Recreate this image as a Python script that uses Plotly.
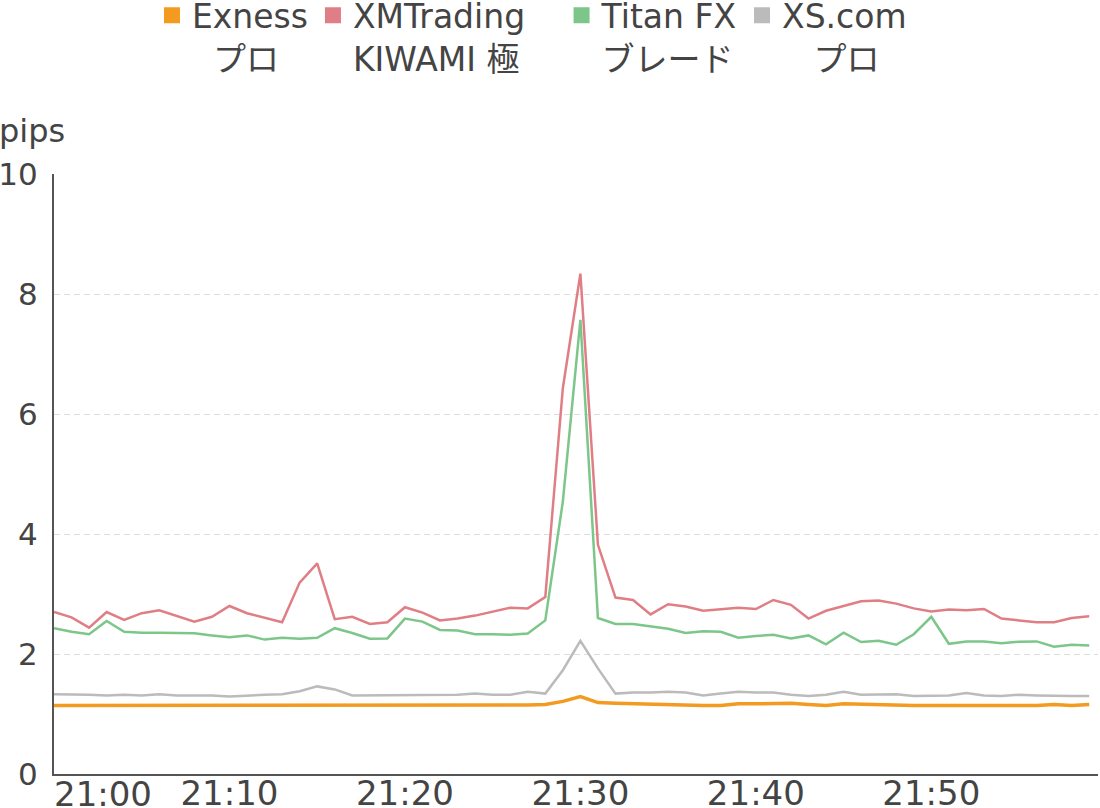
import plotly.graph_objects as go

times = [f"21:{m:02d}" for m in range(60)]

exness = [1.14, 1.14, 1.14, 1.14, 1.14, 1.14, 1.14, 1.14, 1.14, 1.14,
          1.14, 1.14, 1.14, 1.14, 1.14, 1.14, 1.15, 1.15, 1.14, 1.14,
          1.15, 1.15, 1.15, 1.15, 1.15, 1.15, 1.15, 1.15, 1.16, 1.21,
          1.29, 1.19, 1.18, 1.17, 1.16, 1.15, 1.14, 1.14, 1.14, 1.17,
          1.17, 1.18, 1.18, 1.16, 1.14, 1.17, 1.16, 1.16, 1.14, 1.14,
          1.14, 1.14, 1.14, 1.14, 1.14, 1.14, 1.14, 1.16, 1.14, 1.16]

xmtrading = [2.70, 2.61, 2.44, 2.70, 2.57, 2.68, 2.73, 2.63, 2.54, 2.62,
             2.80, 2.68, 2.61, 2.53, 3.19, 3.51, 2.58, 2.62, 2.50, 2.53,
             2.78, 2.69, 2.56, 2.59, 2.64, 2.71, 2.77, 2.76, 2.95, 6.43,
             8.34, 3.82, 2.94, 2.90, 2.66, 2.83, 2.79, 2.72, 2.74, 2.77,
             2.75, 2.90, 2.82, 2.59, 2.72, 2.80, 2.88, 2.89, 2.84, 2.76,
             2.71, 2.74, 2.73, 2.75, 2.59, 2.56, 2.53, 2.53, 2.60, 2.63]

titanfx = [2.43, 2.37, 2.33, 2.55, 2.37, 2.355, 2.355, 2.345, 2.345, 2.31,
           2.28, 2.31, 2.24, 2.27, 2.255, 2.27, 2.43, 2.35, 2.255, 2.26,
           2.59, 2.54, 2.40, 2.39, 2.33, 2.33, 2.32, 2.34, 2.56, 4.54,
           7.57, 2.60, 2.50, 2.50, 2.46, 2.42, 2.35, 2.38, 2.37, 2.27,
           2.30, 2.32, 2.26, 2.31, 2.16, 2.355, 2.20, 2.22, 2.155, 2.33,
           2.62, 2.17, 2.21, 2.21, 2.18, 2.205, 2.21, 2.12, 2.155, 2.14]

xscom = [1.33, 1.33, 1.32, 1.31, 1.32, 1.31, 1.33, 1.31, 1.31, 1.31,
         1.29, 1.31, 1.32, 1.33, 1.38, 1.46, 1.41, 1.31, 1.31, 1.31,
         1.32, 1.32, 1.32, 1.32, 1.34, 1.32, 1.32, 1.37, 1.34, 1.73,
         2.22, 1.76, 1.34, 1.36, 1.36, 1.37, 1.36, 1.31, 1.34, 1.37,
         1.36, 1.36, 1.32, 1.30, 1.32, 1.37, 1.32, 1.33, 1.33, 1.30,
         1.31, 1.31, 1.35, 1.31, 1.30, 1.32, 1.31, 1.30, 1.30, 1.30]

series_names = ["Exness<br>\u00a0\u00a0プロ",
                "XMTrading\u00a0\u00a0\u00a0<br>KIWAMI 極",
                "Titan FX<br>ブレード",
                "XS.com<br>\u00a0\u00a0\u00a0プロ"]
series_values = [exness, xmtrading, titanfx, xscom]
colors = ["#F39A21", "#E07E85", "#7DC68A", "#BBBBBB"]
widths = [3.5, 2.5, 2.5, 2.5]

tick_vals = ["21:10", "21:20", "21:30", "21:40", "21:50"]
first_tick = ["21:00"]

FONT = "DejaVu Sans, Noto Sans CJK JP, sans-serif"
TXT = "#444444"

fig = go.Figure()
for name, vals, c, w in zip(series_names, series_values, colors, widths):
    fig.add_trace(go.Scatter(x=times, y=vals, mode="lines",
                             line=dict(color=c, width=w),
                             showlegend=False, hoverinfo="x+y"))
for name, c in zip(series_names, colors):
    fig.add_trace(go.Scatter(x=[None], y=[None], mode="markers", name=name,
                             xaxis="x2",
                             marker=dict(symbol="square", color=c, size=16),
                             showlegend=True))

fig.update_layout(
    width=1100, height=808,
    margin=dict(l=54, r=2, t=174, b=34, autoexpand=False),
    paper_bgcolor="white", plot_bgcolor="white",
    font=dict(family=FONT, size=32, color=TXT),
    legend=dict(orientation="h", xref="container", yref="paper",
                x=0.4836, xanchor="center", y=1.311, yanchor="top",
                valign="top", font=dict(size=33, color=TXT),
                bgcolor="rgba(0,0,0,0)",
                itemwidth=30, tracegroupgap=0),
    annotations=[dict(text="pips", xref="paper", yref="paper", x=0, y=1,
                      xanchor="left", yanchor="middle", xshift=-57, yshift=43,
                      showarrow=False, font=dict(size=32, color=TXT))],
    xaxis2=dict(overlaying="x", matches="x", anchor="y", side="bottom",
                type="category", categoryarray=times, categoryorder="array",
                tickvals=first_tick, ticks="", showline=False, showgrid=False,
                automargin=False, tickfont=dict(size=34, color=TXT),
                ticklabelstandoff=-3, ticklabelshift=49),
    xaxis=dict(type="category", range=[0, 59.5], automargin=False,
               categoryarray=times, categoryorder="array",
               tickvals=tick_vals,
               showline=True, linecolor="#555555", linewidth=2,
               showgrid=False, ticks="", tickfont=dict(size=34, color=TXT),
               ticklabelstandoff=-12),
)
fig.update_yaxes(range=[0, 10], tickvals=[0, 2, 4, 6, 8, 10], automargin=False,
                 showline=True, linecolor="#555555", linewidth=2,
                 showgrid=True, gridcolor="#DDDDDD", gridwidth=1, griddash="6px,4px",
                 zeroline=False, ticks="", tickfont=dict(size=31, color=TXT),
                 ticklabelstandoff=8)

fig.write_html("out.html",
               config={"displayModeBar": False},
               post_script="document.body.style.margin='0';")
